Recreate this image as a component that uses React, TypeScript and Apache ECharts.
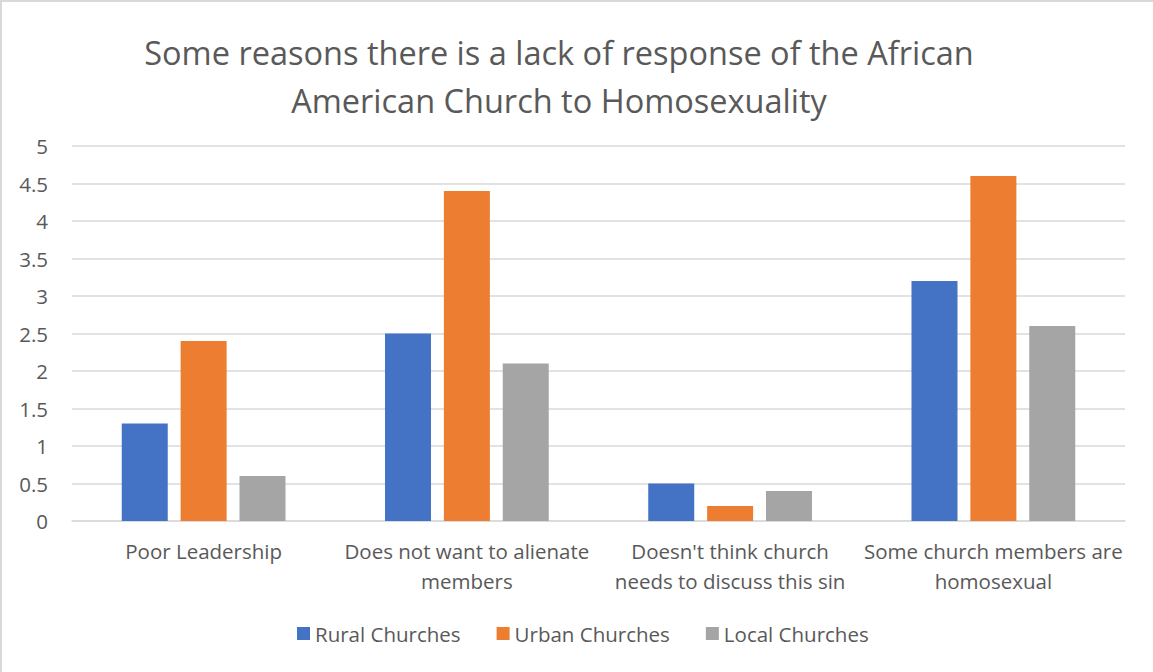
import React, { useEffect, useRef } from "react";
import * as echarts from "echarts";

const categories = [
  "Poor Leadership",
  "Does not want to alienate\nmembers",
  "Doesn't think church\nneeds to discuss this sin",
  "Some church members are\nhomosexual",
];
const seriesNames = ["Rural Churches", "Urban Churches", "Local Churches"];
const rural = [1.3, 2.5, 0.5, 3.2];
const urban = [2.4, 4.4, 0.2, 4.6];
const local = [0.6, 2.1, 0.4, 2.6];
const colors = ["#4472C4", "#ED7D31", "#A5A5A5"];
const titleText =
  "Some reasons there is a lack of response of the African\nAmerican Church to Homosexuality";

const FONT = "'Open Sans', sans-serif";
const TXT = "#595959";

export default function App() {
  const ref = useRef<HTMLDivElement>(null);
  useEffect(() => {
    document.body.style.margin = "0";
    const chart = echarts.init(ref.current!, null, { renderer: "svg" });
    const data = [rural, urban, local];
    chart.setOption({
      animation: false,
      backgroundColor: "#fff",
      textStyle: { fontFamily: FONT },
      title: {
        text: titleText,
        left: 554,
        top: 23,
        textAlign: "center",
        textStyle: {
          fontFamily: FONT,
          fontSize: 32.5,
          fontWeight: "normal",
          color: TXT,
          lineHeight: 48,
        },
      },
      graphic: [
        {
          type: "rect",
          shape: { x: 1, y: 1, width: 1200, height: 700 },
          style: { fill: "none", stroke: "#D9D9D9", lineWidth: 2 },
          silent: true,
        },
      ],
      legend: {
        data: seriesNames,
        left: 292,
        top: 618,
        padding: 5,
        orient: "horizontal",
        itemWidth: 13,
        itemHeight: 13,
        itemGap: 36,
        icon: "rect",
        textStyle: { fontFamily: FONT, fontSize: 20.5, color: TXT },
      },
      grid: { left: 72, right: 28, top: 146, bottom: 151, containLabel: false },
      xAxis: {
        type: "category",
        data: categories,
        axisLine: { show: true, lineStyle: { color: "#D9D9D9", width: 1.5 } },
        axisTick: { show: false },
        axisLabel: {
          fontFamily: FONT,
          fontSize: 20.5,
          color: TXT,
          lineHeight: 30,
          margin: 15,
          interval: 0,
        },
      },
      yAxis: {
        type: "value",
        min: 0,
        max: 5,
        interval: 0.5,
        axisLine: { show: false },
        axisTick: { show: false },
        splitLine: { lineStyle: { color: "#D9D9D9", width: 1.5 } },
        axisLabel: { fontFamily: FONT, fontSize: 20.5, color: TXT, margin: 24 },
      },
      series: seriesNames.map((name, i) => ({
        name,
        type: "bar",
        data: data[i],
        barWidth: 46,
        barGap: "28%",
        itemStyle: { color: colors[i] },
      })),
    });
    return () => chart.dispose();
  }, []);
  return <div ref={ref} style={{ width: 1153, height: 672 }} />;
}
